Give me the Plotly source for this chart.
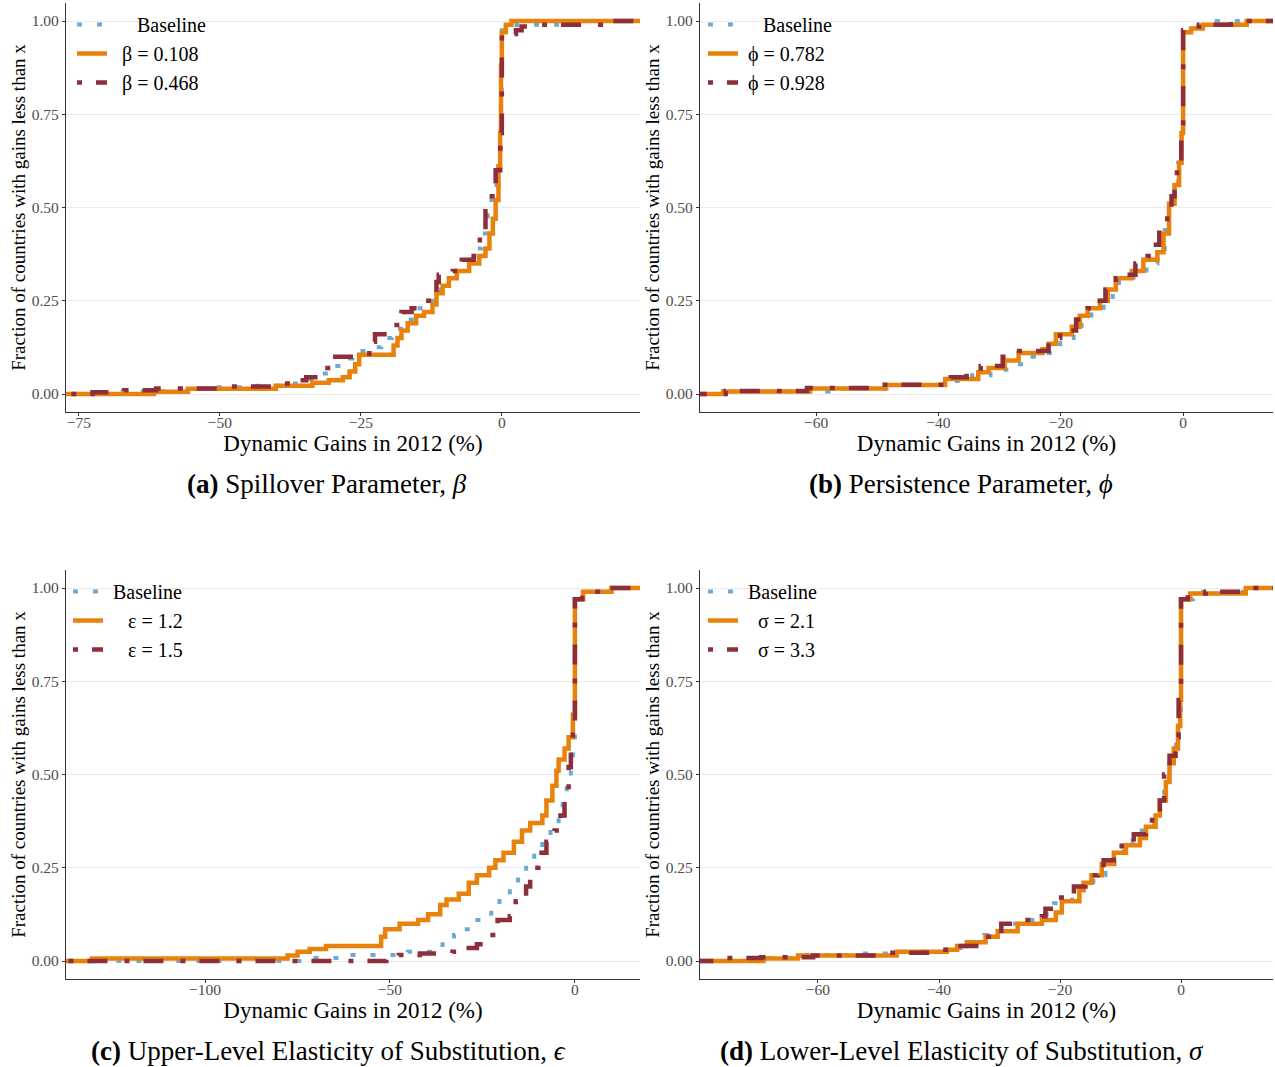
import plotly.graph_objects as go

# ---------------- data ----------------
# Panel (a): spillover parameter beta
a_base_x = [-70.2, -60.0, -52.0, -45.7, -38.7, -35.5, -33.3, -30.8, -28.5, -26.5, -23.2, -21.4, -19.5, -17.4,
            -15.2, -13.5, -12.0, -10.2, -8.0, -6.5, -4.7, -3.6, -2.5, -1.5, -0.6, -0.2, 0.0, 2.6, 11.0]
a_base_y = [0.007, 0.014, 0.018, 0.022, 0.028, 0.040, 0.055, 0.075, 0.095, 0.115, 0.125, 0.15, 0.175, 0.20,
            0.23, 0.25, 0.28, 0.31, 0.33, 0.36, 0.39, 0.43, 0.52, 0.56, 0.65, 0.80, 0.975, 0.99, 1.0]
a_low_x = [-61.7, -55.7, -40.1, -33.6, -30.7, -28.2, -27.0, -26.0, -25.3, -19.2, -18.5, -17.8, -16.7, -15.2,
           -13.8, -12.3, -11.6, -10.5, -9.4, -8.0, -5.8, -4.0, -2.9, -2.2, -1.6, -1.1, -0.6, -0.3, -0.15, 0.0,
           0.7, 1.7]
a_low_y = [0.006, 0.014, 0.022, 0.030, 0.037, 0.045, 0.06, 0.08, 0.105, 0.13, 0.15, 0.17, 0.19, 0.21,
           0.22, 0.24, 0.27, 0.29, 0.31, 0.33, 0.35, 0.37, 0.39, 0.43, 0.47, 0.52, 0.61, 0.70, 0.88, 0.97,
           0.99, 1.0]
a_high_x = [-72.6, -67.0, -61.3, -48.6, -39.5, -36.2, -34.7, -32.1, -30.4, -23.5, -22.5, -19.2, -17.8, -16.0,
            -13.8, -11.6, -11.2, -8.7, -7.1, -5.0, -3.9, -2.9, -2.2, -1.1, -0.3, 0.0, 2.5, 3.5, 4.5, 19.0]
a_high_y = [0.005, 0.010, 0.015, 0.020, 0.028, 0.037, 0.045, 0.07, 0.10, 0.14, 0.16, 0.185, 0.22, 0.23,
            0.25, 0.30, 0.32, 0.33, 0.36, 0.37, 0.42, 0.49, 0.53, 0.60, 0.70, 0.965, 0.975, 0.985, 0.99, 1.0]

# Panel (b): persistence parameter phi
b_base_x = [-75.0, -58.0, -48.5, -39.0, -34.5, -31.5, -28.9, -26.5, -24.4, -21.4, -20.1, -17.9, -16.6, -15.0,
            -13.0, -11.5, -10.5, -8.1, -6.0, -4.2, -3.0, -2.3, -1.5, -0.8, -0.3, 0.0, 1.3, 4.5]
b_base_y = [0.007, 0.015, 0.024, 0.035, 0.05, 0.065, 0.08, 0.10, 0.11, 0.12, 0.15, 0.17, 0.20, 0.22,
            0.24, 0.27, 0.30, 0.325, 0.35, 0.375, 0.44, 0.50, 0.56, 0.62, 0.70, 0.97, 0.985, 1.0]
b_low_x = [-75.2, -61.0, -48.7, -38.9, -33.5, -31.8, -29.2, -26.9, -23.0, -22.0, -20.8, -18.2, -16.9, -15.6,
           -13.6, -12.3, -11.0, -8.4, -6.5, -4.2, -3.2, -2.3, -1.4, -0.65, -0.26, 0.0, 1.3, 3.2, 10.4]
b_low_y = [0.007, 0.015, 0.024, 0.04, 0.058, 0.07, 0.09, 0.11, 0.12, 0.135, 0.16, 0.18, 0.21, 0.23,
           0.25, 0.28, 0.31, 0.33, 0.36, 0.38, 0.43, 0.51, 0.56, 0.62, 0.70, 0.97, 0.98, 0.99, 1.0]
b_high_x = [-74.8, -61.5, -49.3, -39.0, -38.0, -35.4, -33.1, -29.5, -27.3, -22.0, -21.1, -20.1, -17.5, -15.6,
            -14.3, -12.7, -11.0, -10.4, -7.8, -5.8, -5.1, -3.9, -2.6, -1.9, -1.4, -1.0, -0.3, 0.0, 0.65,
            2.6, 7.8]
b_high_y = [0.008, 0.016, 0.025, 0.03, 0.045, 0.06, 0.075, 0.10, 0.115, 0.13, 0.15, 0.17, 0.20, 0.23,
            0.25, 0.28, 0.31, 0.32, 0.35, 0.37, 0.40, 0.44, 0.49, 0.53, 0.58, 0.61, 0.68, 0.975, 0.985,
            0.99, 1.0]

# Panel (c): upper-level elasticity of substitution epsilon
c_base_x = [-70.9, -61.0, -45.2, -38.0, -35.8, -32.7, -29.8, -27.0, -22.6, -20.4, -17.6, -15.4, -13.2, -11.0,
            -8.8, -6.6, -4.4, -3.3, -2.2, -1.1, -0.55, 0.0, 2.5, 12.0]
c_base_y = [0.008, 0.016, 0.025, 0.035, 0.045, 0.07, 0.085, 0.11, 0.14, 0.17, 0.20, 0.23, 0.26, 0.29,
            0.32, 0.36, 0.39, 0.43, 0.48, 0.53, 0.60, 0.97, 0.99, 1.0]
c_low_x = [-130.6, -77.7, -75.0, -71.7, -67.3, -52.4, -51.3, -47.4, -42.4, -39.7, -36.4, -34.7, -31.4, -28.7,
           -26.5, -23.2, -21.5, -19.3, -16.5, -14.3, -12.1, -8.8, -7.7, -6.1, -5.0, -4.4, -2.8, -1.7, -0.55,
           0.0, 2.2, 9.9]
c_low_y = [0.007, 0.015, 0.025, 0.032, 0.04, 0.065, 0.085, 0.10, 0.11, 0.125, 0.15, 0.165, 0.18, 0.21,
           0.23, 0.25, 0.27, 0.29, 0.32, 0.35, 0.37, 0.39, 0.43, 0.47, 0.51, 0.54, 0.57, 0.60, 0.66,
           0.97, 0.99, 1.0]
c_high_x = [-51.0, -47.6, -41.9, -33.1, -28.7, -26.5, -23.2, -20.9, -17.6, -16.0, -13.2, -12.1, -9.9, -7.7,
            -5.5, -3.9, -2.8, -1.7, -1.1, -0.55, 0.0, 2.0, 8.0]
c_high_y = [0.008, 0.016, 0.02, 0.025, 0.035, 0.045, 0.07, 0.11, 0.12, 0.16, 0.20, 0.25, 0.29, 0.32,
            0.35, 0.39, 0.45, 0.52, 0.57, 0.62, 0.97, 0.99, 1.0]

# Panel (d): lower-level elasticity of substitution sigma
d_base_x = [-72.9, -63.0, -55.0, -48.0, -38.0, -34.4, -32.5, -30.5, -28.5, -26.0, -22.5, -21.0, -18.0, -16.5,
            -14.5, -12.5, -11.0, -9.5, -8.0, -6.5, -5.0, -3.5, -2.8, -2.0, -1.2, -0.5, 0.0, 2.0, 12.0]
d_base_y = [0.008, 0.016, 0.02, 0.025, 0.035, 0.045, 0.07, 0.08, 0.10, 0.11, 0.125, 0.155, 0.175, 0.20,
            0.23, 0.26, 0.29, 0.31, 0.33, 0.35, 0.37, 0.42, 0.47, 0.52, 0.58, 0.65, 0.97, 0.99, 1.0]
d_low_x = [-69.0, -63.3, -47.0, -38.7, -37.0, -35.4, -32.3, -30.3, -27.0, -23.0, -20.7, -19.7, -16.8, -16.1,
           -14.8, -13.1, -11.1, -9.1, -6.8, -5.8, -4.2, -3.5, -2.5, -1.9, -1.2, -0.5, -0.13, 0.0, 1.5, 10.7]
d_low_y = [0.007, 0.015, 0.025, 0.03, 0.04, 0.05, 0.065, 0.08, 0.10, 0.11, 0.13, 0.16, 0.19, 0.21,
           0.23, 0.26, 0.29, 0.31, 0.33, 0.36, 0.39, 0.43, 0.48, 0.53, 0.57, 0.63, 0.70, 0.97, 0.985, 1.0]
d_high_x = [-75.0, -69.4, -60.8, -48.9, -39.6, -38.3, -32.3, -29.7, -27.0, -23.0, -22.4, -20.4, -17.7, -15.8,
            -13.8, -12.8, -11.1, -9.8, -7.8, -5.8, -4.8, -3.5, -2.8, -1.9, -0.9, -0.4, 0.0, 1.1, 4.1, 9.4]
d_high_y = [0.008, 0.01, 0.015, 0.022, 0.03, 0.04, 0.065, 0.10, 0.11, 0.12, 0.14, 0.17, 0.20, 0.23,
            0.25, 0.27, 0.30, 0.32, 0.34, 0.37, 0.40, 0.43, 0.50, 0.55, 0.60, 0.70, 0.97, 0.985, 0.99, 1.0]

NBSP = "\u00a0"
panels = [
    dict(series=[(a_base_x, a_base_y), (a_low_x, a_low_y), (a_high_x, a_high_y)],
         labels=[NBSP * 5 + "Baseline", NBSP * 2 + "β = 0.108", NBSP * 2 + "β = 0.468"],
         xrange=[-77.3, 24.5], xticks=[-75, -50, -25, 0],
         caption="<b>(a)</b> Spillover Parameter, <i>β</i>"),
    dict(series=[(b_base_x, b_base_y), (b_low_x, b_low_y), (b_high_x, b_high_y)],
         labels=[NBSP * 4 + "Baseline", NBSP * 1 + "ϕ = 0.782", NBSP * 1 + "ϕ = 0.928"],
         xrange=[-79.0, 14.7], xticks=[-60, -40, -20, 0],
         caption="<b>(b)</b> Persistence Parameter, <i>ϕ</i>"),
    dict(series=[(c_base_x, c_base_y), (c_low_x, c_low_y), (c_high_x, c_high_y)],
         labels=[NBSP * 1 + "Baseline", NBSP * 4 + "ε = 1.2", NBSP * 4 + "ε = 1.5"],
         xrange=[-137.6, 17.6], xticks=[-100, -50, 0],
         caption="<b>(c)</b> Upper-Level Elasticity of Substitution, <i>ϵ</i>"),
    dict(series=[(d_base_x, d_base_y), (d_low_x, d_low_y), (d_high_x, d_high_y)],
         labels=[NBSP * 1 + "Baseline", NBSP * 3 + "σ = 2.1", NBSP * 3 + "σ = 3.3"],
         xrange=[-79.5, 15.2], xticks=[-60, -40, -20, 0],
         caption="<b>(d)</b> Lower-Level Elasticity of Substitution, <i>σ</i>"),
]

# ---------------- styling ----------------
W, H = 1275, 1067
SERIF = "Liberation Serif"
styles = [
    dict(color="#6aaad4", width=4, dash="5px,15px"),
    dict(color="#e8820c", width=4.5, dash="solid"),
    dict(color="#8c2f3b", width=4.5, dash="5px,14px,20px,17px"),
]
xdomains = [[66 / W, 640 / W], [700 / W, 1273 / W], [66 / W, 640 / W], [700 / W, 1273 / W]]
ydomains = [[1 - 411.9 / H, 1 - 3.1 / H], [1 - 411.9 / H, 1 - 3.1 / H],
            [1 - 978.9 / H, 1 - 570.1 / H], [1 - 978.9 / H, 1 - 570.1 / H]]
legend_pos = [(72 / W, 1 - 5 / H), (703 / W, 1 - 5 / H), (68 / W, 1 - 572 / H), (703 / W, 1 - 572 / H)]
caption_pos = [(327 / W, 1 - 484 / H), (961 / W, 1 - 484 / H), (328 / W, 1 - 1051 / H), (962 / W, 1 - 1051 / H)]

fig = go.Figure()
layout = dict(width=W, height=H, margin=dict(l=0, r=0, t=0, b=0),
              paper_bgcolor="white", plot_bgcolor="white", annotations=[])

for i, p in enumerate(panels):
    k = "" if i == 0 else str(i + 1)
    leg = "legend" + k
    for (xs, ys), lab, st in zip(p["series"], p["labels"], styles):
        # ECDF padded to -inf / +inf like stat_ecdf
        xx = [-1000.0] + list(xs) + [1000.0]
        yy = [0.0] + list(ys) + [ys[-1]]
        fig.add_trace(go.Scatter(x=xx, y=yy, mode="lines", line_shape="hv", name=lab,
                                 line=dict(color=st["color"], width=st["width"], dash=st["dash"]),
                                 xaxis="x" + k, yaxis="y" + k, legend=leg, showlegend=True))
    layout["xaxis" + k] = dict(
        domain=xdomains[i], range=p["xrange"], anchor="y" + k,
        tickvals=p["xticks"], showgrid=False, zeroline=False,
        showline=True, linecolor="#333333", linewidth=1.3,
        ticks="outside", ticklen=3, tickcolor="#333333", ticklabelstandoff=-7,
        tickfont=dict(family=SERIF, size=15.5, color="#4d4d4d"),
        title=dict(text="Dynamic Gains in 2012 (%)", font=dict(family=SERIF, size=23, color="black"),
                   standoff=0),
        automargin=False, fixedrange=True)
    layout["yaxis" + k] = dict(
        domain=ydomains[i], range=[-0.048, 1.048], anchor="x" + k,
        tickvals=[0, 0.25, 0.5, 0.75, 1.0], tickformat=".2f",
        showgrid=True, gridcolor="#ebebeb", gridwidth=1, zeroline=False,
        showline=True, linecolor="#333333", linewidth=1.3,
        ticks="outside", ticklen=3, tickcolor="#333333",
        tickfont=dict(family=SERIF, size=15.5, color="#4d4d4d"),
        title=dict(text="Fraction of countries with gains less than x",
                   font=dict(family=SERIF, size=19, color="black"), standoff=0),
        automargin=False, fixedrange=True)
    lx, ly = legend_pos[i]
    layout[leg] = dict(x=lx, y=ly, xanchor="left", yanchor="top", bgcolor="rgba(0,0,0,0)",
                       borderwidth=0, font=dict(family=SERIF, size=20, color="black"),
                       itemwidth=30, tracegroupgap=0)
    cx, cy = caption_pos[i]
    layout["annotations"].append(dict(text=p["caption"], x=cx, y=cy, xref="paper", yref="paper",
                                      xanchor="center", yanchor="middle", showarrow=False,
                                      font=dict(family=SERIF, size=27, color="black")))

fig.update_layout(**layout)
fig.write_html("out.html")
